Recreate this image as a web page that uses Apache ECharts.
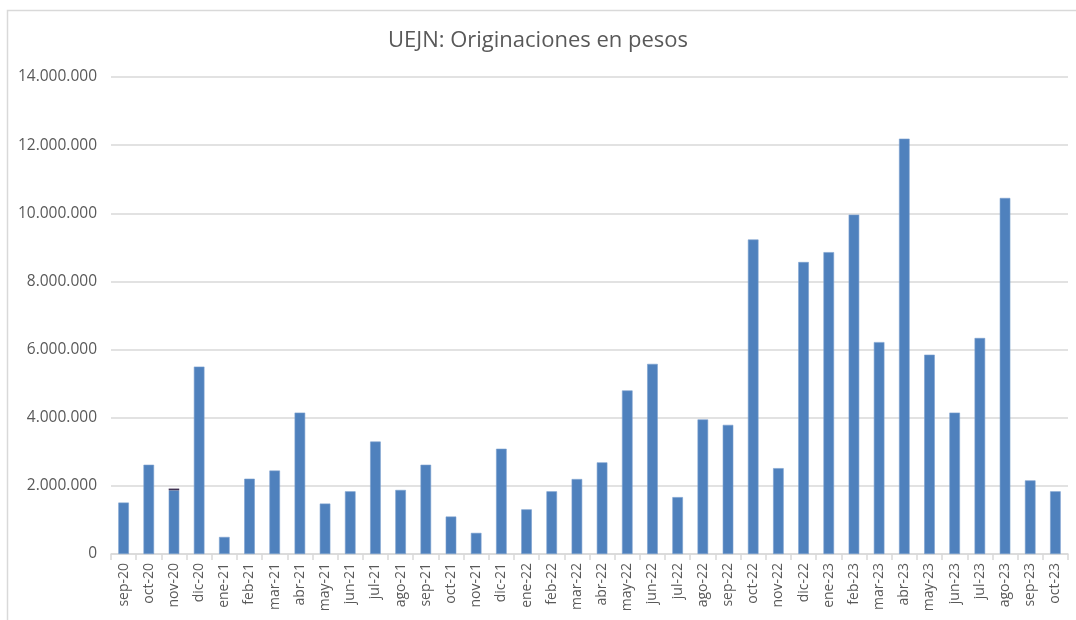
<!DOCTYPE html>
<html>
<head>
<meta charset="utf-8">
<script src="https://cdn.jsdelivr.net/npm/echarts@6/dist/echarts.min.js"></script>
<style>html,body{margin:0;padding:0;background:#fff}#c{width:1076px;height:620px}</style>
</head>
<body>
<div id="c"></div>
<script>
const categories = ["sep-20","oct-20","nov-20","dic-20","ene-21","feb-21","mar-21","abr-21","may-21","jun-21","jul-21","ago-21","sep-21","oct-21","nov-21","dic-21","ene-22","feb-22","mar-22","abr-22","may-22","jun-22","jul-22","ago-22","sep-22","oct-22","nov-22","dic-22","ene-23","feb-23","mar-23","abr-23","may-23","jun-23","jul-23","ago-23","sep-23","oct-23"];
const originaciones = [1510000,2620000,1870000,5500000,500000,2210000,2450000,4150000,1480000,1840000,3300000,1880000,2620000,1100000,620000,3090000,1310000,1840000,2200000,2690000,4800000,5580000,1670000,3950000,3790000,9230000,2520000,8570000,8860000,9960000,6220000,12190000,5850000,4150000,6340000,10450000,2160000,1840000];
const extra = [0,0,50000,0,0,0,0,0,0,0,0,0,0,0,0,0,0,0,0,0,0,0,0,0,0,0,0,0,0,0,0,0,0,0,0,0,0,0];
const yTicks = [0,2000000,4000000,6000000,8000000,10000000,12000000,14000000];

function fmt(v){ return String(v).replace(/\B(?=(\d{3})+(?!\d))/g, "."); }

const chart = echarts.init(document.getElementById('c'), null, {renderer:'canvas'});
chart.setOption({
  animation:false,
  backgroundColor:'#fff',
  textStyle:{fontFamily:'Open Sans'},
  title:{
    text:'UEJN: Originaciones en pesos',
    left:'center', top:25,
    textStyle:{fontFamily:'Open Sans', fontSize:22, fontWeight:'normal', color:'#595959'}
  },
  graphic:[{
    type:'rect', shape:{x:7.5,y:10.5,width:1100,height:700},
    style:{fill:'none', stroke:'#d9d9d9', lineWidth:1.5}, silent:true
  }],
  grid:{left:111, right:8, top:77, bottom:66},
  xAxis:{
    type:'category', data:categories, boundaryGap:true,
    axisLine:{lineStyle:{color:'#d9d9d9', width:1.5}},
    axisTick:{show:true, length:6, lineStyle:{color:'#d9d9d9', width:1.5}},
    axisLabel:{rotate:90, interval:0, color:'#595959', fontSize:14, fontFamily:'Open Sans', margin:9}
  },
  yAxis:{
    type:'value', min:yTicks[0], max:yTicks[yTicks.length-1], interval:2000000,
    axisLine:{show:false}, axisTick:{show:false},
    splitLine:{lineStyle:{color:'#d9d9d9', width:1.5}},
    axisLabel:{formatter:fmt, color:'#595959', fontSize:15.5, fontFamily:'Open Sans', margin:14}
  },
  series:[
    {type:'bar', name:'Originaciones', data:originaciones, stack:'a', barWidth:'42%',
     itemStyle:{color:'#4F81BD', borderColor:'#7BA0CE', borderWidth:0.6}},
    {type:'bar', name:'extra', data:extra, stack:'a', barWidth:'42%',
     itemStyle:{color:'#403152'}}
  ]
});
</script>
</body>
</html>
